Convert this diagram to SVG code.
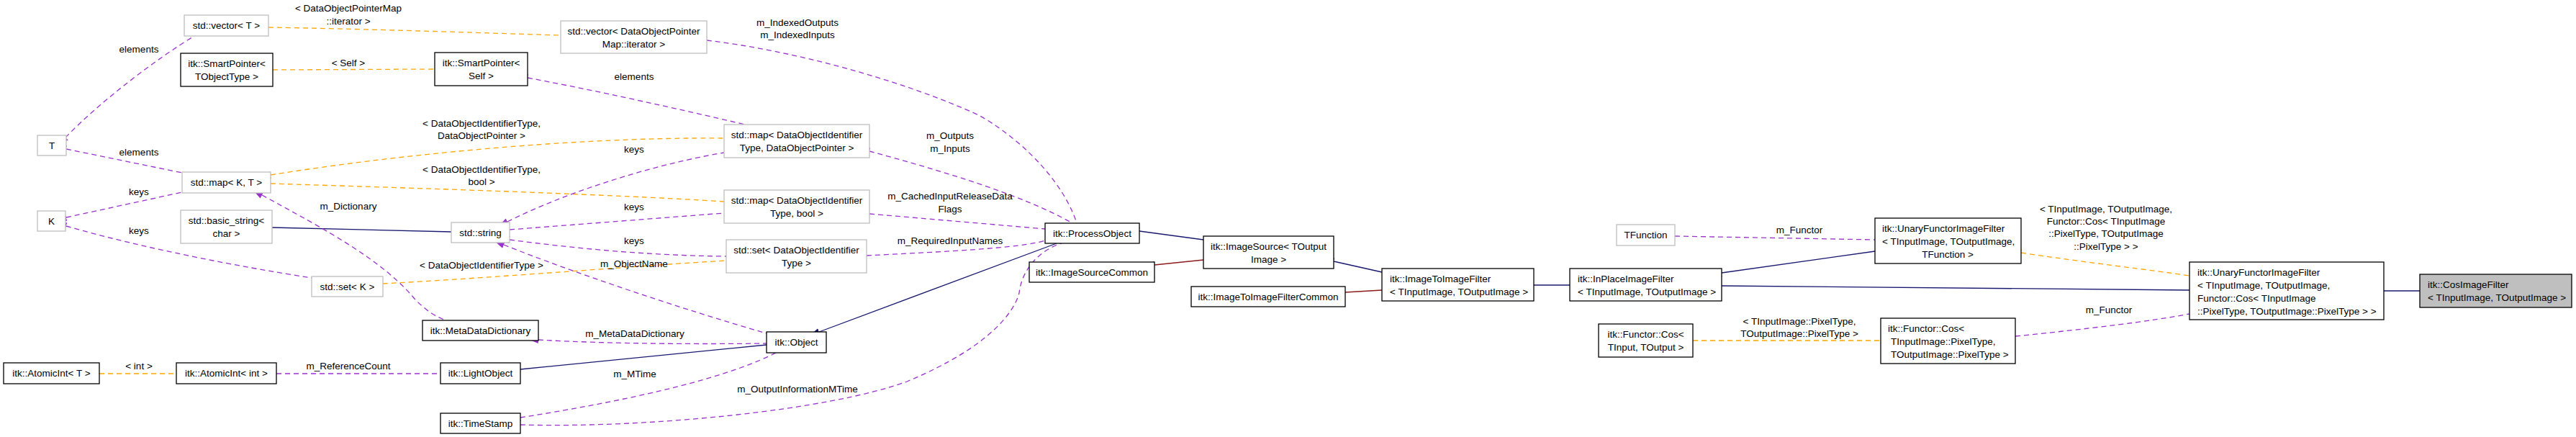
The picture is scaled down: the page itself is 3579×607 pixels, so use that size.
<svg xmlns="http://www.w3.org/2000/svg" width="3579" height="607" viewBox="0 0 3579 607">
<style>
text{font-family:"Liberation Sans",Arial,sans-serif;font-size:13.5px;fill:#000}
.m{text-anchor:middle}
.n rect{fill:#fff;stroke:#000;stroke-width:1.3}
.g rect{fill:#fff;stroke:#bfbfbf;stroke-width:1.3}
.e path{fill:none;stroke-width:1.3}
.u{stroke:#9a32cd;stroke-dasharray:7,5;marker-start:url(#au)}
.t{stroke:#ffa500;stroke-dasharray:7,5;marker-start:url(#at)}
.b{stroke:#191970;marker-start:url(#ab)}
.r{stroke:#8b1a1a;marker-start:url(#ar)}
</style>
<defs>
<marker id="au" markerUnits="userSpaceOnUse" markerWidth="14" markerHeight="12" refX="0" refY="5" orient="auto-start-reverse" viewBox="0 0 14 10"><path d="M14,0 L0,5 L14,10 z" fill="#9a32cd" transform="translate(14,10) rotate(180)"/></marker>
<marker id="at" markerUnits="userSpaceOnUse" markerWidth="14" markerHeight="12" refX="0" refY="5" orient="auto-start-reverse" viewBox="0 0 14 10"><path d="M14,0 L0,5 L14,10 z" fill="#ffa500" transform="translate(14,10) rotate(180)"/></marker>
<marker id="ab" markerUnits="userSpaceOnUse" markerWidth="14" markerHeight="12" refX="0" refY="5" orient="auto-start-reverse" viewBox="0 0 14 10"><path d="M14,0 L0,5 L14,10 z" fill="#191970" transform="translate(14,10) rotate(180)"/></marker>
<marker id="ar" markerUnits="userSpaceOnUse" markerWidth="14" markerHeight="12" refX="0" refY="5" orient="auto-start-reverse" viewBox="0 0 14 10"><path d="M14,0 L0,5 L14,10 z" fill="#8b1a1a" transform="translate(14,10) rotate(180)"/></marker>
</defs>
<rect width="3579" height="607" fill="#fff"/>
<g id="edges" class="e">
<path class="u" d="M91,191 C140,140 220,80 270,50"/>
<path class="u" d="M92,207 L253,240"/>
<path class="u" d="M92,302 L253,267"/>
<path class="u" d="M92,314 C200,345 330,370 433,386"/>
<path class="t" d="M379,97 L604,96"/>
<path class="t" d="M373,38 C500,40 650,45 779,49"/>
<path class="t" d="M376,243 C550,215 800,190 1006,192"/>
<path class="t" d="M376,255 C600,262 850,270 1006,280"/>
<path class="t" d="M532,394 C700,385 900,368 1009,362"/>
<path class="b" d="M378,316 L627,322"/>
<path class="u" d="M705,308 C780,270 900,230 1006,212"/>
<path class="u" d="M708,319 L1006,296"/>
<path class="u" d="M708,333 C800,345 900,355 1009,356"/>
<path class="u" d="M700,340 C800,380 950,430 1065,463"/>
<path class="u" d="M364,271 C450,318 530,360 576,415 C590,430 605,440 620,445"/>
<path class="u" d="M748,472 C850,478 980,478 1065,477"/>
<path class="b" d="M723,513 L1065,479"/>
<path class="u" d="M723,580 C850,560 1000,530 1078,490"/>
<path class="u" d="M723,590 C900,595 1150,570 1260,530 C1380,480 1410,430 1416,407 C1420,370 1450,345 1475,338"/>
<path class="u" d="M384,519 L612,519"/>
<path class="t" d="M138,519 L245,519"/>
<path class="b" d="M1138,461 L1468,338"/>
<path class="u" d="M982,56 C1100,70 1250,110 1360,160 C1430,200 1480,260 1496,310"/>
<path class="u" d="M1208,210 C1300,235 1420,270 1490,310"/>
<path class="u" d="M1208,297 L1452,318"/>
<path class="u" d="M1204,355 C1300,350 1420,345 1452,334"/>
<path class="u" d="M733,108 C850,130 980,160 1035,173"/>
<path class="b" d="M1583,321 L1672,333"/>
<path class="r" d="M1604,368 L1672,361"/>
<path class="b" d="M1853,363 L1920,378"/>
<path class="r" d="M1869,406 L1920,403"/>
<path class="b" d="M2131,396 L2181,396"/>
<path class="b" d="M2392,379 L2605,349"/>
<path class="b" d="M2392,397 L3042,403"/>
<path class="u" d="M2327,328 L2605,333"/>
<path class="t" d="M2808,351 C2900,365 2990,375 3042,383"/>
<path class="u" d="M2800,467 C2900,457 2990,446 3042,436"/>
<path class="t" d="M2352,473 L2613,473"/>
<path class="b" d="M3312,404 L3362,404"/>
</g>
<g id="labels">
<text class="m" x="193" y="73">elements</text>
<text class="m" x="193" y="216">elements</text>
<text class="m" x="193" y="271">keys</text>
<text class="m" x="193" y="325">keys</text>
<text class="m" x="484" y="92">&lt; Self &gt;</text>
<text class="m" x="484" y="16">&lt; DataObjectPointerMap</text>
<text class="m" x="484" y="34">::iterator &gt;</text>
<text class="m" x="669" y="176">&lt; DataObjectIdentifierType,</text>
<text class="m" x="669" y="193">DataObjectPointer &gt;</text>
<text class="m" x="669" y="240">&lt; DataObjectIdentifierType,</text>
<text class="m" x="669" y="257">bool &gt;</text>
<text class="m" x="669" y="373">&lt; DataObjectIdentifierType &gt;</text>
<text class="m" x="881" y="212">keys</text>
<text class="m" x="881" y="292">keys</text>
<text class="m" x="881" y="339">keys</text>
<text class="m" x="881" y="371">m_ObjectName</text>
<text class="m" x="484" y="291">m_Dictionary</text>
<text class="m" x="882" y="468">m_MetaDataDictionary</text>
<text class="m" x="882" y="524">m_MTime</text>
<text class="m" x="1108" y="545">m_OutputInformationMTime</text>
<text class="m" x="484" y="513">m_ReferenceCount</text>
<text class="m" x="193" y="513">&lt; int &gt;</text>
<text class="m" x="1108" y="36">m_IndexedOutputs</text>
<text class="m" x="1108" y="53">m_IndexedInputs</text>
<text class="m" x="1320" y="193">m_Outputs</text>
<text class="m" x="1320" y="211">m_Inputs</text>
<text class="m" x="1320" y="277">m_CachedInputReleaseData</text>
<text class="m" x="1320" y="295">Flags</text>
<text class="m" x="1320" y="339">m_RequiredInputNames</text>
<text class="m" x="881" y="111">elements</text>
<text class="m" x="2500" y="324">m_Functor</text>
<text class="m" x="2926" y="295">&lt; TInputImage, TOutputImage,</text>
<text class="m" x="2926" y="312">Functor::Cos&lt; TInputImage</text>
<text class="m" x="2926" y="329">::PixelType, TOutputImage</text>
<text class="m" x="2926" y="347">::PixelType &gt; &gt;</text>
<text class="m" x="2930" y="435">m_Functor</text>
<text class="m" x="2500" y="451">&lt; TInputImage::PixelType,</text>
<text class="m" x="2500" y="468">TOutputImage::PixelType &gt;</text>
</g>
<g id="n_vecT" class="g"><rect x="256" y="21" width="117" height="29"/><text class="m" x="314.5" y="40">std::vector&lt; T &gt;</text></g>
<g id="n_spT" class="n"><rect x="251" y="74" width="128" height="46"/><text class="m" x="315" y="93">itk::SmartPointer&lt;</text><text class="m" x="315" y="111">TObjectType &gt;</text></g>
<g id="n_T" class="g"><rect x="52" y="188" width="40" height="28"/><text class="m" x="72" y="207">T</text></g>
<g id="n_mapKT" class="g"><rect x="253" y="239" width="123" height="29"/><text class="m" x="314.5" y="258">std::map&lt; K, T &gt;</text></g>
<g id="n_K" class="g"><rect x="52" y="293" width="39" height="28"/><text class="m" x="71.5" y="312">K</text></g>
<g id="n_bstr" class="g"><rect x="251" y="292" width="127" height="46"/><text class="m" x="314.5" y="311">std::basic_string&lt;</text><text class="m" x="314.5" y="329">char &gt;</text></g>
<g id="n_setK" class="g"><rect x="433" y="384" width="99" height="28"/><text class="m" x="482.5" y="403">std::set&lt; K &gt;</text></g>
<g id="n_mdd" class="n"><rect x="587" y="445" width="161" height="28"/><text class="m" x="667.5" y="464">itk::MetaDataDictionary</text></g>
<g id="n_aiT" class="n"><rect x="5" y="504" width="133" height="29"/><text class="m" x="71.5" y="523">itk::AtomicInt&lt; T &gt;</text></g>
<g id="n_aiInt" class="n"><rect x="245" y="504" width="139" height="29"/><text class="m" x="314.5" y="523">itk::AtomicInt&lt; int &gt;</text></g>
<g id="n_lo" class="n"><rect x="612" y="504" width="111" height="29"/><text class="m" x="667.5" y="523">itk::LightObject</text></g>
<g id="n_ts" class="n"><rect x="612" y="574" width="111" height="28"/><text class="m" x="667.5" y="593">itk::TimeStamp</text></g>
<g id="n_spS" class="n"><rect x="604" y="73" width="129" height="46"/><text class="m" x="668.5" y="92">itk::SmartPointer&lt;</text><text class="m" x="668.5" y="110">Self &gt;</text></g>
<g id="n_str" class="g"><rect x="627" y="309" width="81" height="28"/><text class="m" x="667.5" y="328">std::string</text></g>
<g id="n_vecIt" class="g"><rect x="779" y="29" width="203" height="45"/><text class="m" x="880.5" y="48">std::vector&lt; DataObjectPointer</text><text class="m" x="880.5" y="66">Map::iterator &gt;</text></g>
<g id="n_mapDOP" class="g"><rect x="1006" y="173" width="202" height="46"/><text class="m" x="1107" y="192">std::map&lt; DataObjectIdentifier</text><text class="m" x="1107" y="210">Type, DataObjectPointer &gt;</text></g>
<g id="n_mapBool" class="g"><rect x="1006" y="264" width="202" height="46"/><text class="m" x="1107" y="283">std::map&lt; DataObjectIdentifier</text><text class="m" x="1107" y="301">Type, bool &gt;</text></g>
<g id="n_setDO" class="g"><rect x="1009" y="333" width="195" height="46"/><text class="m" x="1106.5" y="352">std::set&lt; DataObjectIdentifier</text><text class="m" x="1106.5" y="370">Type &gt;</text></g>
<g id="n_obj" class="n"><rect x="1065" y="461" width="83" height="29"/><text class="m" x="1106.5" y="480">itk::Object</text></g>
<g id="n_po" class="n"><rect x="1452" y="310" width="131" height="28"/><text class="m" x="1517.5" y="329">itk::ProcessObject</text></g>
<g id="n_isc" class="n"><rect x="1430" y="364" width="174" height="28"/><text class="m" x="1517" y="383">itk::ImageSourceCommon</text></g>
<g id="n_is" class="n"><rect x="1672" y="328" width="181" height="45"/><text class="m" x="1762.5" y="347">itk::ImageSource&lt; TOutput</text><text class="m" x="1762.5" y="365">Image &gt;</text></g>
<g id="n_itifc" class="n"><rect x="1655" y="398" width="214" height="28"/><text class="m" x="1762" y="417">itk::ImageToImageFilterCommon</text></g>
<g id="n_itif" class="n"><rect x="1920" y="373" width="211" height="45"/><text x="1931" y="392">itk::ImageToImageFilter</text><text x="1931" y="410">&lt; TInputImage, TOutputImage &gt;</text></g>
<g id="n_ipif" class="n"><rect x="2181" y="373" width="211" height="45"/><text x="2192" y="392">itk::InPlaceImageFilter</text><text x="2192" y="410">&lt; TInputImage, TOutputImage &gt;</text></g>
<g id="n_tf" class="g"><rect x="2246" y="312" width="81" height="29"/><text class="m" x="2286.5" y="331">TFunction</text></g>
<g id="n_ufif" class="n"><rect x="2605" y="303" width="203" height="63"/><text x="2615" y="322">itk::UnaryFunctorImageFilter</text><text x="2615" y="340">&lt; TInputImage, TOutputImage,</text><text class="m" x="2706" y="358">TFunction &gt;</text></g>
<g id="n_fcos" class="n"><rect x="2221" y="450" width="131" height="46"/><text class="m" x="2286.5" y="469">itk::Functor::Cos&lt;</text><text class="m" x="2286.5" y="487">TInput, TOutput &gt;</text></g>
<g id="n_fcosP" class="n"><rect x="2613" y="442" width="187" height="63"/><text x="2623" y="461">itk::Functor::Cos&lt;</text><text x="2627" y="479">TInputImage::PixelType,</text><text x="2627" y="497">TOutputImage::PixelType &gt;</text></g>
<g id="n_ufifCos" class="n"><rect x="3042" y="364" width="270" height="80"/><text x="3053" y="383">itk::UnaryFunctorImageFilter</text><text x="3053" y="401">&lt; TInputImage, TOutputImage,</text><text x="3053" y="419"> Functor::Cos&lt; TInputImage</text><text x="3053" y="437">::PixelType, TOutputImage::PixelType &gt; &gt;</text></g>
<g id="n_cos" class="n"><rect x="3362" y="381" width="211" height="46" style="fill:#bfbfbf"/><text x="3373" y="400">itk::CosImageFilter</text><text x="3373" y="418">&lt; TInputImage, TOutputImage &gt;</text></g>
</svg>
